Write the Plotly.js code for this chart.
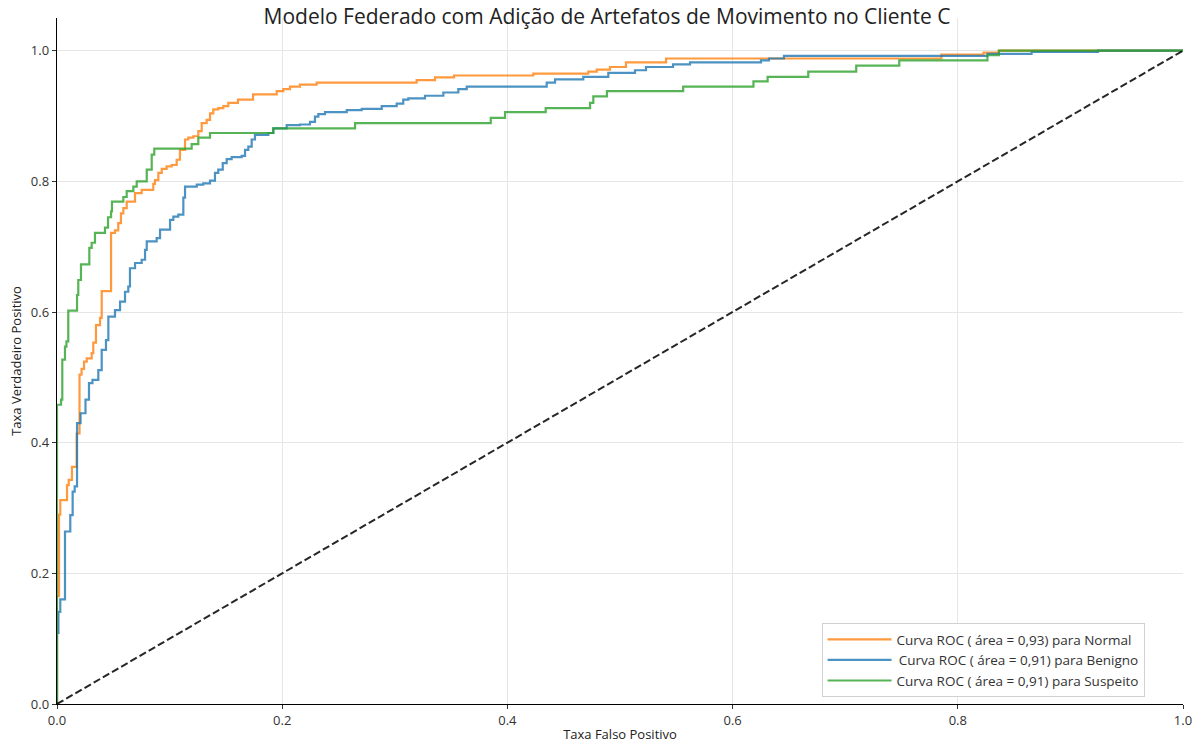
<!DOCTYPE html>
<html>
<head>
<meta charset="utf-8">
<script src="https://cdn.plot.ly/plotly-3.0.1.min.js"></script>
<style>
  html, body { margin: 0; padding: 0; background: #fff; }
  #chart { width: 1202px; height: 746px; }
</style>
</head>
<body>
<div id="chart"></div>
<script>
// ROC curve points (false positive rate, true positive rate) per class
const fprNormal = [0, 0, 0.0018, 0.0029, 0.0089, 0.0104, 0.0133, 0.0175, 0.0200, 0.0218, 0.0240, 0.0264, 0.0308, 0.0322, 0.0346, 0.0382, 0.0397, 0.0480, 0.0515, 0.0544, 0.0568, 0.0589, 0.0619, 0.0693, 0.0752, 0.0855, 0.0870, 0.0900, 0.0930, 0.0974, 0.1019, 0.1063, 0.1092, 0.1137, 0.1166, 0.1210, 0.1255, 0.1285, 0.1329, 0.1359, 0.1388, 0.1432, 0.1477, 0.1521, 0.1607, 0.1741, 0.1951, 0.2010, 0.2069, 0.2158, 0.2306, 0.3194, 0.3357, 0.3526, 0.4230, 0.4718, 0.4793, 0.4911, 0.5053, 0.5409, 0.7854, 0.8229, 0.8365, 1];
const tprNormal = [0, 0.165, 0.290, 0.312, 0.335, 0.343, 0.363, 0.414, 0.504, 0.513, 0.524, 0.529, 0.537, 0.553, 0.580, 0.591, 0.632, 0.721, 0.725, 0.736, 0.751, 0.759, 0.769, 0.782, 0.787, 0.796, 0.802, 0.813, 0.819, 0.823, 0.825, 0.833, 0.848, 0.864, 0.867, 0.869, 0.877, 0.889, 0.894, 0.904, 0.910, 0.912, 0.915, 0.920, 0.925, 0.933, 0.938, 0.941, 0.945, 0.948, 0.951, 0.955, 0.959, 0.962, 0.965, 0.968, 0.971, 0.975, 0.982, 0.988, 0.994, 0.997, 1.0, 1.0];

const fprBenigno = [0, 0, 0.0013, 0.0029, 0.0071, 0.0118, 0.0139, 0.0157, 0.0178, 0.0209, 0.0253, 0.0284, 0.0315, 0.0367, 0.0397, 0.0435, 0.0456, 0.0515, 0.0560, 0.0604, 0.0633, 0.0648, 0.0693, 0.0752, 0.0782, 0.0797, 0.0885, 0.0915, 0.1004, 0.1033, 0.1077, 0.1122, 0.1137, 0.1241, 0.1299, 0.1359, 0.1403, 0.1432, 0.1472, 0.1507, 0.1551, 0.1640, 0.1670, 0.1699, 0.1729, 0.1758, 0.1877, 0.1921, 0.2040, 0.2158, 0.2247, 0.2291, 0.2321, 0.2380, 0.2573, 0.2706, 0.2884, 0.3017, 0.3075, 0.3120, 0.3268, 0.3431, 0.3564, 0.3639, 0.4349, 0.4423, 0.4674, 0.4896, 0.5133, 0.5231, 0.5471, 0.5622, 0.6252, 0.6323, 0.6456, 0.8263, 0.8655, 0.9245, 1];
const tprBenigno = [0, 0.109, 0.141, 0.160, 0.264, 0.289, 0.325, 0.333, 0.430, 0.445, 0.466, 0.491, 0.496, 0.511, 0.542, 0.557, 0.593, 0.603, 0.616, 0.631, 0.639, 0.667, 0.675, 0.680, 0.695, 0.708, 0.713, 0.726, 0.741, 0.746, 0.749, 0.775, 0.792, 0.795, 0.797, 0.801, 0.813, 0.818, 0.828, 0.834, 0.837, 0.839, 0.848, 0.853, 0.864, 0.871, 0.874, 0.881, 0.886, 0.887, 0.891, 0.899, 0.903, 0.906, 0.909, 0.911, 0.915, 0.919, 0.925, 0.927, 0.931, 0.936, 0.941, 0.945, 0.951, 0.956, 0.960, 0.966, 0.970, 0.975, 0.979, 0.982, 0.985, 0.988, 0.992, 0.995, 0.998, 1.0, 1.0];

const fprSuspeito = [0, 0, 0.0036, 0.0047, 0.0071, 0.0084, 0.0100, 0.0178, 0.0189, 0.0213, 0.0287, 0.0308, 0.0337, 0.0426, 0.0453, 0.0480, 0.0488, 0.0589, 0.0619, 0.0678, 0.0708, 0.0797, 0.0841, 0.0864, 0.1196, 0.1255, 0.1359, 0.1921, 0.2647, 0.3852, 0.3979, 0.4340, 0.4734, 0.4763, 0.4884, 0.5561, 0.6185, 0.6311, 0.6672, 0.7098, 0.7480, 0.8263, 0.8365, 1];
const tprSuspeito = [0, 0.458, 0.466, 0.527, 0.547, 0.555, 0.602, 0.626, 0.649, 0.673, 0.698, 0.706, 0.721, 0.729, 0.745, 0.754, 0.769, 0.776, 0.785, 0.792, 0.800, 0.818, 0.841, 0.850, 0.857, 0.867, 0.874, 0.881, 0.889, 0.897, 0.906, 0.912, 0.920, 0.930, 0.938, 0.945, 0.953, 0.960, 0.968, 0.977, 0.985, 0.993, 1.0, 1.0];

// Reference line for a random classifier
const chanceLine = [0, 1];

const legendNames = [
  "Curva ROC ( área = 0,93) para Normal",
  "\u2009Curva ROC ( área = 0,91) para Benigno",
  "Curva ROC ( área = 0,91) para Suspeito"
];
const curveColors = ["#ff7f0e", "#1f77b4", "#2ca02c"];
const tickVals = [0, 0.2, 0.4, 0.6, 0.8, 1.0];
const tickText = ["0.0", "0.2", "0.4", "0.6", "0.8", "1.0"];

const FONT = "Open Sans, Noto Sans, sans-serif";

function rocTrace(x, y, name, color) {
  return {
    x: x, y: y, name: name, type: "scatter", mode: "lines",
    line: { color: color, width: 2.2, shape: "hv" },
    opacity: 0.8,
    hoverinfo: "x+y"
  };
}

const traces = [
  rocTrace(fprNormal, tprNormal, legendNames[0], curveColors[0]),
  rocTrace(fprBenigno, tprBenigno, legendNames[1], curveColors[1]),
  rocTrace(fprSuspeito, tprSuspeito, legendNames[2], curveColors[2]),
  {
    x: chanceLine, y: chanceLine, type: "scatter", mode: "lines",
    line: { color: "#000", width: 2, dash: "7.4px,3.2px" },
    opacity: 0.85,
    showlegend: false, hoverinfo: "skip"
  }
];

const axisCommon = {
  showgrid: true, gridcolor: "#e6e6e6", gridwidth: 1,
  zeroline: false,
  showline: true, linecolor: "#000", linewidth: 1.3,
  ticks: "outside", ticklen: 4, tickwidth: 1, tickcolor: "#333",
  tickvals: tickVals, ticktext: tickText,
  tickfont: { family: FONT, size: 13, color: "#333" },
  mirror: false
};

const layout = {
  width: 1202, height: 746,
  margin: { l: 57, r: 19, t: 18, b: 42 },
  paper_bgcolor: "#fff", plot_bgcolor: "#fff",
  title: {
    text: "Modelo Federado com Adição de Artefatos de Movimento no Cliente C",
    font: { family: FONT, size: 21, color: "#222" },
    x: 0.505, xanchor: "center", y: 1 - 17 / 746, yanchor: "middle", yref: "container"
  },
  xaxis: Object.assign({}, axisCommon, {
    range: [0, 1],
    title: { text: "Taxa Falso Positivo", font: { family: FONT, size: 13, color: "#222" }, standoff: 2 }
  }),
  yaxis: Object.assign({}, axisCommon, {
    range: [0, 1.05],
    title: { text: "Taxa Verdadeiro Positivo", font: { family: FONT, size: 13, color: "#222" }, standoff: 6 }
  }),
  legend: {
    x: 0.679, y: 0.01, xanchor: "left", yanchor: "bottom",
    bgcolor: "#fff", bordercolor: "#d0d0d0", borderwidth: 1,
    font: { family: FONT, size: 13.5, color: "#333" },
    itemwidth: 64, entrywidth: 350, entrywidthmode: "pixels", tracegroupgap: 0
  },
  showlegend: true
};

Plotly.newPlot("chart", traces, layout, { displayModeBar: false, staticPlot: true });
</script>
</body>
</html>
